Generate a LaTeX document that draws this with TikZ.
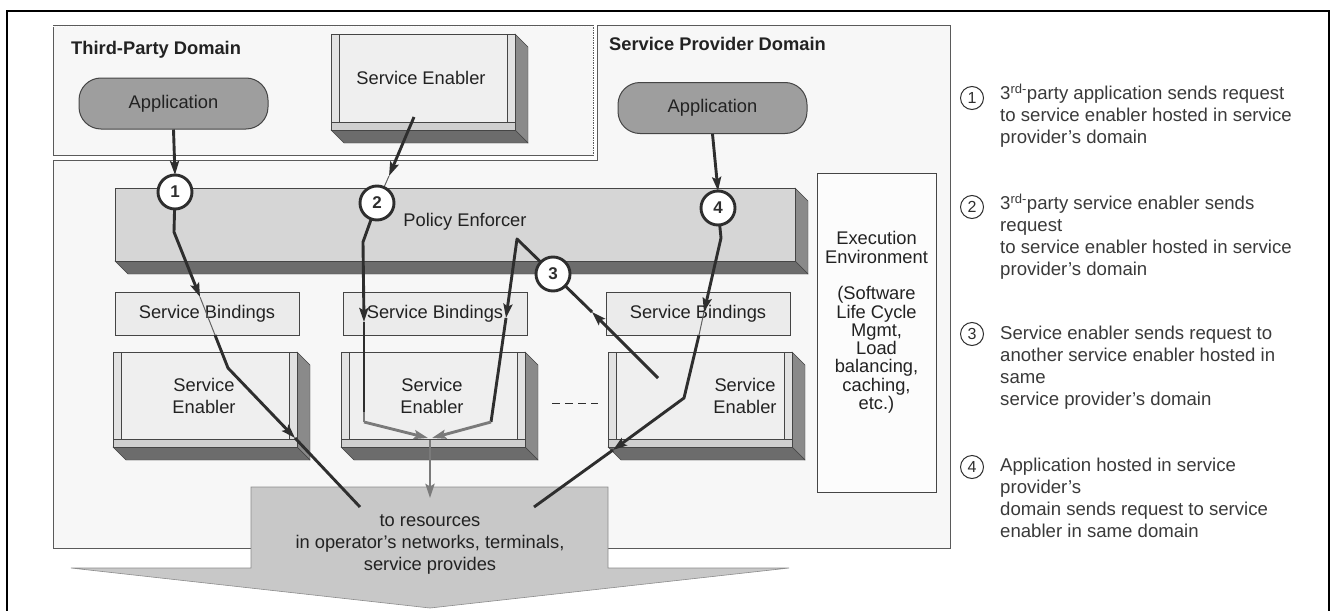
\documentclass[tikz,border=0pt]{standalone}
\usepackage{fontspec}
\setmainfont{Liberation Sans}
\usetikzlibrary{arrows.meta,calc}

\definecolor{ink}{HTML}{2E2E2E}
\definecolor{txt}{HTML}{222222}
\definecolor{legendtxt}{HTML}{3A3A3A}
\definecolor{edge}{HTML}{454545}
\definecolor{domainfill}{HTML}{F7F7F7}
\definecolor{domainline}{HTML}{5A5A5A}
\definecolor{appfill}{HTML}{9E9E9E}
\definecolor{facefill}{HTML}{EFEFEF}
\definecolor{stripfill}{HTML}{E2E2E2}
\definecolor{ledgefill}{HTML}{CFCFCF}
\definecolor{sidefill}{HTML}{8A8A8A}
\definecolor{bottomfill}{HTML}{6C6C6C}
\definecolor{pefill}{HTML}{D6D6D6}
\definecolor{bindfill}{HTML}{EBEBEB}
\definecolor{resfill}{HTML}{C8C8C8}
\definecolor{flowgray}{HTML}{7A7A7A}

\newcommand{\diagfont}{\fontsize{18.3}{22}\selectfont}
\newcommand{\legfont}{\fontsize{18.6}{22}\selectfont}

% 3D block: front face (#1,#2)-(#3,#4), extrusion depth #5
\newcommand{\slabshape}[5]{%
  \filldraw[fill=sidefill,draw=edge] (#3,#2) -- ({#3+#5},{#2+#5}) -- ({#3+#5},{#4+#5}) -- (#3,#4) -- cycle;
  \filldraw[fill=bottomfill,draw=edge] (#1,#4) -- (#3,#4) -- ({#3+#5},{#4+#5}) -- ({#1+#5},{#4+#5}) -- cycle;
}
% enabler block with inner frame strips
\newcommand{\enablershape}[5]{%
  \slabshape{#1}{#2}{#3}{#4}{#5}
  \filldraw[fill=facefill,draw=edge] (#1,#2) rectangle (#3,#4);
  \filldraw[fill=stripfill,draw=edge] (#1,#2) rectangle ({#1+8},#4);
  \filldraw[fill=stripfill,draw=edge] ({#3-8},#2) rectangle (#3,#4);
  \filldraw[fill=ledgefill,draw=edge] (#1,{#4-8}) rectangle (#3,#4);
}

\tikzset{
  domainbox/.style={fill=domainfill,draw=domainline,line width=1pt},
  domtitle/.style={font=\diagfont\bfseries,text=txt,anchor=west,inner sep=0pt},
  boxtext/.style={font=\diagfont,text=txt,align=center,inner sep=0pt},
  appbox/.style={rectangle,rounded corners=22pt,fill=appfill,draw=edge,line width=1pt,
    minimum width=189pt,minimum height=51pt,font=\diagfont,text=txt},
  bindbox/.style={rectangle,fill=bindfill,draw=edge,line width=1pt,
    minimum width=184pt,minimum height=43pt,font=\diagfont,text=txt},
  numcirc/.style={circle,fill=white,draw=ink,line width=2.9pt,minimum size=34pt,inner sep=0pt,
    font=\fontsize{17}{17}\selectfont\bfseries,text=ink},
  legcirc/.style={circle,draw=ink,line width=1pt,minimum size=23pt,inner sep=0pt,
    font=\fontsize{16}{16}\selectfont,text=ink},
  legtext/.style={font=\legfont,text=legendtxt,align=left,anchor=north west,inner sep=0pt},
  flowline/.style={draw=ink,line width=2.9pt,line join=round},
  thinflow/.style={draw=ink!75,line width=1pt},
  grayflow/.style={draw=flowgray,line width=2.9pt,line join=round},
  arrowed/.style={-{Stealth[length=14pt,width=9pt,inset=2.5pt]}},
}

\begin{document}
\begin{tikzpicture}[x=1pt,y=-1pt]
\useasboundingbox (0,0) rectangle (1332,610);
\fill[white] (0,0) rectangle (1332,610);

% outer frame (open at the bottom)
\draw[black,line width=1.3pt] (7,615) -- (7,11) -- (1329,11) -- (1329,615);

% domains
\filldraw[domainbox] (53,26) rectangle (593,155);
\draw[white,line width=0.6pt,dash pattern=on 1pt off 1.5pt] (53,26) -- (593,26) -- (593,155);
\filldraw[domainbox] (597,26) -- (950,26) -- (950,548) -- (53,548) -- (53,160) -- (597,160) -- cycle;
\node[domtitle] (tpd) at (71,50) {Third-Party Domain};
\node[domtitle] (spd) at (609,44) {Service Provider Domain};

% execution environment
\filldraw[fill=white!60!domainfill,draw=edge,line width=1pt] (817,173) rectangle (936,492);
\node[font=\fontsize{18.3}{18.3}\selectfont,text=txt,align=center,inner sep=0pt] (exec) at (876.5,322.5)
  {Execution\\Environment\\[18.3pt](Software\\Life Cycle\\Mgmt,\\Load\\balancing,\\caching,\\etc.)};

% resources arrow
\filldraw[fill=resfill,draw=resfill!70!black,line width=0.6pt]
  (251,487) -- (608,487) -- (608,568) -- (789,568) -- (430,608) -- (71,568) -- (251,568) -- cycle;
\node[boxtext] (res) at (430,544) {to resources\\in operator’s networks, terminals,\\service provides};

% applications
\node[appbox] (app1) at (173.5,103.5) {Application};
\node[appbox] (app2) at (712.5,108) {Application};

% third-party service enabler
\enablershape{331}{34}{515}{130}{13}
\node[boxtext] (setp) at (421,78) {Service Enabler};

% policy enforcer
\slabshape{115}{188}{795}{261}{13}
\filldraw[fill=pefill,draw=edge] (115,188) rectangle (795,261);
\node[boxtext] (pe) at (465,222) {Policy Enforcer};

% service bindings
\node[bindbox] (sb1) at (207,313.5) {Service Bindings};
\node[bindbox] (sb2) at (435,313.5) {Service Bindings};
\node[bindbox] (sb3) at (698,313.5) {Service Bindings};

% service enablers
\enablershape{113}{352}{297}{447}{13}
\enablershape{341}{352}{525}{447}{13}
\enablershape{608}{352}{792}{447}{13}
\node[boxtext] (se1) at (204,396) {Service\\Enabler};
\node[boxtext] (se2) at (432,396) {Service\\Enabler};
\node[boxtext] (se3) at (745,396) {Service\\Enabler};
\draw[ink,line width=1pt,dash pattern=on 8pt off 5pt] (552,403) -- (598,403);

% marker positions
\coordinate (c1) at (175,192);
\coordinate (c2) at (377,203);
\coordinate (c3) at (553,274);
\coordinate (c4) at (718,208);

% flow 1
\coordinate (p1a) at (174,232);
\coordinate (p1b) at (200,297);
\coordinate (p1c) at (215,335);
\coordinate (p1d) at (228,368);
\coordinate (p1e) at (295,438);
\coordinate (p1f) at (360,507);
\draw[flowline,arrowed] (app1.south) -- ($(c1)+(0,-17)$);
\draw[flowline,arrowed] (c1) -- (p1a) -- (p1b);
\draw[thinflow] (p1b) -- (p1c);
\draw[flowline,arrowed] (p1c) -- (p1d) -- (p1e);
\draw[flowline] (p1e) -- (p1f);

% flow 2
\coordinate (p2s) at (414,117);
\coordinate (p2t) at (389,176);
\coordinate (p2a) at (363,242);
\coordinate (p2b) at (364,322);
\coordinate (p2c) at (364,412);
\coordinate (p2d) at (364,422);
\coordinate (mergeL) at (428,438);
\coordinate (mergeR) at (432,438);
\coordinate (merge) at (430,440);
\coordinate (resin) at (430,498);
\draw[flowline,arrowed] (p2s) -- (p2t);
\draw[thinflow] (p2t) -- (c2);
\draw[flowline,arrowed] (c2) -- (p2a) -- (p2b);
\draw[flowline] (p2b) -- (p2c);
\draw[grayflow] (p2c) -- (p2d);
\draw[grayflow,arrowed] (p2d) -- (mergeL);

% flow 3
\coordinate (p3s) at (658,378);
\coordinate (p3t) at (592,312);
\coordinate (p3peak) at (517,239);
\coordinate (p3b) at (506,318);
\coordinate (p3c) at (491,422);
\draw[flowline,arrowed] (p3s) -- (p3t);
\draw[flowline] (p3t) -- (c3);
\draw[flowline,arrowed] (c3) -- (p3peak) -- (p3b);
\draw[flowline] (p3b) -- (p3c);
\draw[grayflow,arrowed] (p3c) -- (mergeR);

% merged flow to resources
\draw[grayflow,arrowed] (merge) -- (resin);

% flow 4
\coordinate (p4a) at (721,238);
\coordinate (p4b) at (704,312);
\coordinate (p4c) at (699,335);
\coordinate (p4d) at (684,398);
\coordinate (p4e) at (613,450);
\coordinate (p4f) at (534,507);
\draw[flowline,arrowed] (app2.south) -- ($(c4)+(0,-17)$);
\draw[flowline,arrowed] (c4) -- (p4a) -- (p4b);
\draw[thinflow] (p4b) -- (p4c);
\draw[flowline,arrowed] (p4c) -- (p4d) -- (p4e);
\draw[flowline] (p4e) -- (p4f);

% markers on top
\node[numcirc] (n1) at (c1) {1};
\node[numcirc] (n2) at (c2) {2};
\node[numcirc] (n3) at (c3) {3};
\node[numcirc] (n4) at (c4) {4};

% legend
\node[legcirc] (l1) at (972,98) {1};
\node[legtext] (t1) at (1000,84) {3\textsuperscript{rd-}party application sends request\\to service enabler hosted in service\\provider’s domain};
\node[legcirc] (l2) at (972,207) {2};
\node[legtext] (t2) at (1000,194) {3\textsuperscript{rd-}party service enabler sends\\request\\to service enabler hosted in service\\provider’s domain};
\node[legcirc] (l3) at (972,334) {3};
\node[legtext] (t3) at (1000,326) {Service enabler sends request to\\another service enabler hosted in\\same\\service provider’s domain};
\node[legcirc] (l4) at (972,467) {4};
\node[legtext] (t4) at (1000,458) {Application hosted in service\\provider’s\\domain sends request to service\\enabler in same domain};
\end{tikzpicture}
\end{document}
